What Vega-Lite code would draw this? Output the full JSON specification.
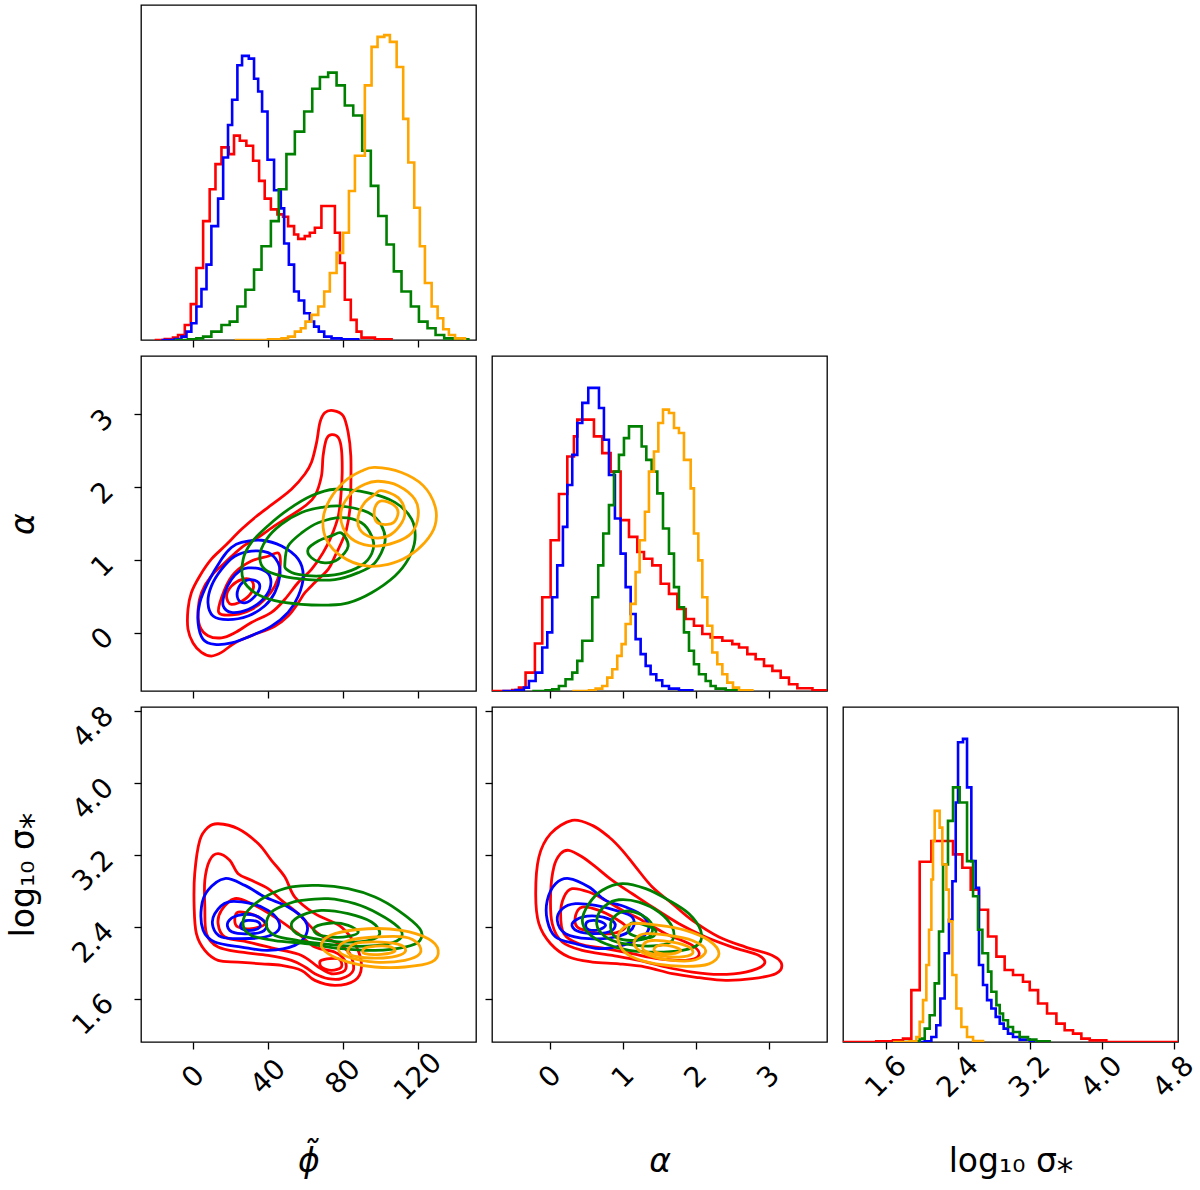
{
"$schema": "https://vega.github.io/schema/vega-lite/v6.json",
"padding": {"left": 6, "top": 4, "right": 0, "bottom": 0},
"autosize": {"type": "pad"},
"background": "white",
"config": {
  "view": {"stroke": "black", "strokeWidth": 1.3},
  "font": "DejaVu Sans",
  "axis": {"domain": false, "grid": false, "tickColor": "black", "tickSize": 7, "tickWidth": 1.3, "labelFont": "DejaVu Sans", "labelFontSize": 28, "labelColor": "black", "titleFont": "DejaVu Sans", "titleFontSize": 33, "titleFontWeight": "normal", "titleColor": "black", "labelOverlap": false, "labelFlush": false, "labelBound": false}
},
"datasets": {
"hp": [
{"s":"a","x":-20.7,"n":0},{"s":"a","x":-15.3,"n":3},{"s":"a","x":-10.9,"n":7},{"s":"a","x":-8.2,"n":15},{"s":"a","x":-4.6,"n":45},{"s":"a","x":-1.4,"n":107},{"s":"a","x":1.6,"n":215},{"s":"a","x":5.2,"n":355},{"s":"a","x":8.7,"n":450},{"s":"a","x":11.8,"n":525},{"s":"a","x":15.0,"n":575},{"s":"a","x":18.9,"n":555},{"s":"a","x":21.7,"n":610},{"s":"a","x":24.8,"n":595},{"s":"a","x":28.3,"n":580},{"s":"a","x":31.9,"n":535},{"s":"a","x":35.1,"n":475},{"s":"a","x":38.1,"n":422},{"s":"a","x":41.4,"n":390},{"s":"a","x":44.9,"n":375},{"s":"a","x":47.9,"n":368},{"s":"a","x":50.6,"n":340},{"s":"a","x":53.8,"n":315},{"s":"a","x":56.0,"n":302},{"s":"a","x":59.5,"n":310},{"s":"a","x":62.2,"n":320},{"s":"a","x":64.9,"n":335},{"s":"a","x":68.4,"n":400},{"s":"a","x":75.6,"n":320},{"s":"a","x":78.3,"n":230},{"s":"a","x":80.9,"n":120},{"s":"a","x":84.1,"n":60},{"s":"a","x":87.2,"n":25},{"s":"a","x":89.8,"n":7},{"s":"a","x":97.0,"n":2},{"s":"a","x":105.9,"n":0},
{"s":"b","x":-17.1,"n":0},{"s":"b","x":-10.0,"n":3},{"s":"b","x":-6.4,"n":10},{"s":"b","x":-3.7,"n":25},{"s":"b","x":-1.1,"n":50},{"s":"b","x":1.6,"n":100},{"s":"b","x":4.3,"n":152},{"s":"b","x":7.0,"n":225},{"s":"b","x":9.6,"n":340},{"s":"b","x":13.2,"n":422},{"s":"b","x":15.9,"n":545},{"s":"b","x":18.5,"n":642},{"s":"b","x":20.7,"n":717},{"s":"b","x":23.5,"n":820},{"s":"b","x":26.0,"n":848},{"s":"b","x":29.6,"n":840},{"s":"b","x":32.4,"n":780},{"s":"b","x":34.6,"n":742},{"s":"b","x":36.7,"n":682},{"s":"b","x":39.6,"n":538},{"s":"b","x":43.1,"n":447},{"s":"b","x":46.7,"n":393},{"s":"b","x":48.5,"n":288},{"s":"b","x":51.0,"n":225},{"s":"b","x":53.8,"n":145},{"s":"b","x":56.3,"n":118},{"s":"b","x":59.2,"n":80},{"s":"b","x":62.2,"n":55},{"s":"b","x":64.5,"n":40},{"s":"b","x":67.0,"n":25},{"s":"b","x":69.9,"n":10},{"s":"b","x":73.8,"n":5},{"s":"b","x":79.1,"n":2},{"s":"b","x":88.1,"n":0},
{"s":"c","x":-10.0,"n":0},{"s":"c","x":-2.9,"n":2},{"s":"c","x":1.6,"n":5},{"s":"c","x":5.2,"n":10},{"s":"c","x":9.6,"n":25},{"s":"c","x":15.0,"n":45},{"s":"c","x":19.4,"n":55},{"s":"c","x":23.5,"n":100},{"s":"c","x":27.8,"n":150},{"s":"c","x":32.4,"n":210},{"s":"c","x":36.4,"n":280},{"s":"c","x":41.4,"n":355},{"s":"c","x":45.6,"n":450},{"s":"c","x":49.7,"n":555},{"s":"c","x":54.2,"n":622},{"s":"c","x":59.2,"n":682},{"s":"c","x":63.5,"n":750},{"s":"c","x":67.6,"n":785},{"s":"c","x":72.0,"n":798},{"s":"c","x":76.5,"n":760},{"s":"c","x":80.9,"n":700},{"s":"c","x":85.4,"n":670},{"s":"c","x":90.2,"n":565},{"s":"c","x":94.8,"n":460},{"s":"c","x":98.8,"n":370},{"s":"c","x":103.2,"n":285},{"s":"c","x":107.1,"n":205},{"s":"c","x":111.2,"n":145},{"s":"c","x":116.2,"n":100},{"s":"c","x":120.5,"n":55},{"s":"c","x":125.1,"n":35},{"s":"c","x":129.4,"n":15},{"s":"c","x":134.0,"n":5},{"s":"c","x":138.9,"n":2},{"s":"c","x":146.9,"n":0},
{"s":"d","x":22.1,"n":0},{"s":"d","x":39.9,"n":2},{"s":"d","x":47.1,"n":5},{"s":"d","x":50.6,"n":10},{"s":"d","x":54.2,"n":25},{"s":"d","x":57.4,"n":35},{"s":"d","x":59.9,"n":55},{"s":"d","x":63.1,"n":75},{"s":"d","x":66.7,"n":100},{"s":"d","x":69.9,"n":145},{"s":"d","x":72.9,"n":200},{"s":"d","x":76.5,"n":260},{"s":"d","x":80.0,"n":320},{"s":"d","x":83.1,"n":445},{"s":"d","x":86.3,"n":550},{"s":"d","x":91.6,"n":760},{"s":"d","x":95.2,"n":875},{"s":"d","x":98.4,"n":905},{"s":"d","x":102.0,"n":910},{"s":"d","x":105.0,"n":890},{"s":"d","x":108.6,"n":815},{"s":"d","x":112.1,"n":660},{"s":"d","x":114.8,"n":530},{"s":"d","x":118.0,"n":395},{"s":"d","x":121.0,"n":280},{"s":"d","x":123.7,"n":170},{"s":"d","x":127.3,"n":100},{"s":"d","x":130.5,"n":65},{"s":"d","x":133.5,"n":32},{"s":"d","x":136.5,"n":15},{"s":"d","x":139.8,"n":5},{"s":"d","x":145.1,"n":0}
],
"ha": [
{"s":"a","x":-0.8,"n":0},{"s":"a","x":-0.522,"n":3},{"s":"a","x":-0.43,"n":10},{"s":"a","x":-0.339,"n":55},{"s":"a","x":-0.211,"n":142},{"s":"a","x":-0.11,"n":280},{"s":"a","x":0.005,"n":450},{"s":"a","x":0.119,"n":588},{"s":"a","x":0.234,"n":700},{"s":"a","x":0.325,"n":760},{"s":"a","x":0.371,"n":810},{"s":"a","x":0.6,"n":760},{"s":"a","x":0.714,"n":710},{"s":"a","x":0.829,"n":655},{"s":"a","x":0.966,"n":510},{"s":"a","x":1.081,"n":460},{"s":"a","x":1.195,"n":415},{"s":"a","x":1.287,"n":395},{"s":"a","x":1.401,"n":375},{"s":"a","x":1.516,"n":320},{"s":"a","x":1.63,"n":290},{"s":"a","x":1.745,"n":245},{"s":"a","x":1.859,"n":215},{"s":"a","x":1.973,"n":195},{"s":"a","x":2.088,"n":170},{"s":"a","x":2.202,"n":160},{"s":"a","x":2.363,"n":150},{"s":"a","x":2.5,"n":140},{"s":"a","x":2.592,"n":130},{"s":"a","x":2.706,"n":110},{"s":"a","x":2.82,"n":95},{"s":"a","x":2.935,"n":75},{"s":"a","x":3.05,"n":60},{"s":"a","x":3.164,"n":40},{"s":"a","x":3.278,"n":20},{"s":"a","x":3.393,"n":8},{"s":"a","x":3.6,"n":2},{"s":"a","x":3.8,"n":0},
{"s":"b","x":-0.659,"n":0},{"s":"b","x":-0.476,"n":3},{"s":"b","x":-0.362,"n":10},{"s":"b","x":-0.293,"n":30},{"s":"b","x":-0.201,"n":55},{"s":"b","x":-0.11,"n":130},{"s":"b","x":-0.041,"n":175},{"s":"b","x":0.027,"n":280},{"s":"b","x":0.096,"n":375},{"s":"b","x":0.174,"n":490},{"s":"b","x":0.234,"n":615},{"s":"b","x":0.302,"n":705},{"s":"b","x":0.371,"n":800},{"s":"b","x":0.44,"n":860},{"s":"b","x":0.522,"n":905},{"s":"b","x":0.669,"n":845},{"s":"b","x":0.737,"n":750},{"s":"b","x":0.806,"n":645},{"s":"b","x":0.888,"n":515},{"s":"b","x":0.966,"n":410},{"s":"b","x":1.035,"n":310},{"s":"b","x":1.104,"n":230},{"s":"b","x":1.172,"n":155},{"s":"b","x":1.241,"n":110},{"s":"b","x":1.31,"n":75},{"s":"b","x":1.378,"n":50},{"s":"b","x":1.456,"n":32},{"s":"b","x":1.538,"n":15},{"s":"b","x":1.63,"n":7},{"s":"b","x":1.767,"n":2},{"s":"b","x":1.951,"n":0},
{"s":"c","x":-0.247,"n":0},{"s":"c","x":-0.064,"n":2},{"s":"c","x":0.027,"n":5},{"s":"c","x":0.119,"n":15},{"s":"c","x":0.21,"n":35},{"s":"c","x":0.302,"n":55},{"s":"c","x":0.371,"n":90},{"s":"c","x":0.44,"n":150},{"s":"c","x":0.577,"n":280},{"s":"c","x":0.659,"n":375},{"s":"c","x":0.728,"n":470},{"s":"c","x":0.806,"n":555},{"s":"c","x":0.875,"n":655},{"s":"c","x":0.943,"n":705},{"s":"c","x":1.012,"n":755},{"s":"c","x":1.081,"n":790},{"s":"c","x":1.255,"n":730},{"s":"c","x":1.319,"n":690},{"s":"c","x":1.392,"n":655},{"s":"c","x":1.47,"n":590},{"s":"c","x":1.548,"n":485},{"s":"c","x":1.63,"n":410},{"s":"c","x":1.699,"n":310},{"s":"c","x":1.767,"n":250},{"s":"c","x":1.836,"n":175},{"s":"c","x":1.905,"n":120},{"s":"c","x":1.973,"n":80},{"s":"c","x":2.042,"n":50},{"s":"c","x":2.134,"n":30},{"s":"c","x":2.202,"n":15},{"s":"c","x":2.271,"n":7},{"s":"c","x":2.409,"n":2},{"s":"c","x":2.592,"n":0},
{"s":"d","x":0.302,"n":0},{"s":"d","x":0.531,"n":2},{"s":"d","x":0.623,"n":7},{"s":"d","x":0.714,"n":15},{"s":"d","x":0.783,"n":40},{"s":"d","x":0.852,"n":65},{"s":"d","x":0.92,"n":105},{"s":"d","x":0.98,"n":140},{"s":"d","x":1.035,"n":200},{"s":"d","x":1.104,"n":260},{"s":"d","x":1.172,"n":355},{"s":"d","x":1.227,"n":450},{"s":"d","x":1.3,"n":535},{"s":"d","x":1.355,"n":655},{"s":"d","x":1.424,"n":715},{"s":"d","x":1.484,"n":800},{"s":"d","x":1.548,"n":840},{"s":"d","x":1.63,"n":830},{"s":"d","x":1.699,"n":785},{"s":"d","x":1.767,"n":770},{"s":"d","x":1.836,"n":690},{"s":"d","x":1.928,"n":605},{"s":"d","x":1.973,"n":470},{"s":"d","x":2.033,"n":390},{"s":"d","x":2.088,"n":280},{"s":"d","x":2.157,"n":195},{"s":"d","x":2.225,"n":115},{"s":"d","x":2.294,"n":80},{"s":"d","x":2.363,"n":50},{"s":"d","x":2.431,"n":25},{"s":"d","x":2.509,"n":10},{"s":"d","x":2.592,"n":2},{"s":"d","x":2.775,"n":0}
],
"hs": [
{"s":"a","x":1.12,"n":0},{"s":"a","x":1.491,"n":2},{"s":"a","x":1.677,"n":5},{"s":"a","x":1.788,"n":10},{"s":"a","x":1.881,"n":155},{"s":"a","x":1.974,"n":538},{"s":"a","x":2.104,"n":600},{"s":"a","x":2.345,"n":560},{"s":"a","x":2.449,"n":520},{"s":"a","x":2.542,"n":455},{"s":"a","x":2.634,"n":395},{"s":"a","x":2.735,"n":315},{"s":"a","x":2.828,"n":255},{"s":"a","x":2.92,"n":215},{"s":"a","x":3.013,"n":200},{"s":"a","x":3.124,"n":180},{"s":"a","x":3.199,"n":155},{"s":"a","x":3.292,"n":115},{"s":"a","x":3.392,"n":85},{"s":"a","x":3.496,"n":55},{"s":"a","x":3.588,"n":35},{"s":"a","x":3.681,"n":25},{"s":"a","x":3.774,"n":10},{"s":"a","x":3.867,"n":5},{"s":"a","x":4.052,"n":0},{"s":"a","x":4.85,"n":0},
{"s":"b","x":1.937,"n":0},{"s":"b","x":2.03,"n":2},{"s":"b","x":2.104,"n":15},{"s":"b","x":2.159,"n":50},{"s":"b","x":2.204,"n":130},{"s":"b","x":2.252,"n":265},{"s":"b","x":2.3,"n":365},{"s":"b","x":2.338,"n":480},{"s":"b","x":2.375,"n":715},{"s":"b","x":2.401,"n":895},{"s":"b","x":2.456,"n":905},{"s":"b","x":2.501,"n":760},{"s":"b","x":2.549,"n":540},{"s":"b","x":2.597,"n":460},{"s":"b","x":2.634,"n":230},{"s":"b","x":2.679,"n":170},{"s":"b","x":2.724,"n":125},{"s":"b","x":2.772,"n":100},{"s":"b","x":2.82,"n":75},{"s":"b","x":2.865,"n":55},{"s":"b","x":2.909,"n":40},{"s":"b","x":2.957,"n":25},{"s":"b","x":3.013,"n":15},{"s":"b","x":3.087,"n":7},{"s":"b","x":3.199,"n":2},{"s":"b","x":3.347,"n":0},
{"s":"c","x":1.788,"n":0},{"s":"c","x":1.9,"n":2},{"s":"c","x":1.974,"n":10},{"s":"c","x":2.03,"n":40},{"s":"c","x":2.085,"n":80},{"s":"c","x":2.141,"n":175},{"s":"c","x":2.189,"n":330},{"s":"c","x":2.234,"n":530},{"s":"c","x":2.289,"n":660},{"s":"c","x":2.345,"n":760},{"s":"c","x":2.419,"n":715},{"s":"c","x":2.501,"n":540},{"s":"c","x":2.568,"n":435},{"s":"c","x":2.623,"n":335},{"s":"c","x":2.672,"n":265},{"s":"c","x":2.735,"n":210},{"s":"c","x":2.772,"n":150},{"s":"c","x":2.828,"n":110},{"s":"c","x":2.865,"n":85},{"s":"c","x":2.902,"n":65},{"s":"c","x":2.957,"n":45},{"s":"c","x":3.013,"n":30},{"s":"c","x":3.087,"n":15},{"s":"c","x":3.18,"n":7},{"s":"c","x":3.273,"n":2},{"s":"c","x":3.421,"n":0},
{"s":"d","x":1.677,"n":0},{"s":"d","x":1.862,"n":2},{"s":"d","x":1.937,"n":15},{"s":"d","x":1.974,"n":60},{"s":"d","x":2.011,"n":125},{"s":"d","x":2.048,"n":230},{"s":"d","x":2.078,"n":335},{"s":"d","x":2.104,"n":485},{"s":"d","x":2.122,"n":600},{"s":"d","x":2.141,"n":690},{"s":"d","x":2.196,"n":640},{"s":"d","x":2.226,"n":530},{"s":"d","x":2.271,"n":455},{"s":"d","x":2.3,"n":360},{"s":"d","x":2.338,"n":200},{"s":"d","x":2.382,"n":100},{"s":"d","x":2.438,"n":45},{"s":"d","x":2.501,"n":15},{"s":"d","x":2.568,"n":3},{"s":"d","x":2.679,"n":0}
],
"cpa": [
{"s":"a","g":"a1","x":74.7,"y":3.05},{"s":"a","g":"a1","x":80.0,"y":2.98},{"s":"a","g":"a1","x":82.7,"y":2.75},{"s":"a","g":"a1","x":84.1,"y":2.43},{"s":"a","g":"a1","x":84.1,"y":1.97},{"s":"a","g":"a1","x":83.6,"y":1.69},{"s":"a","g":"a1","x":81.8,"y":1.42},{"s":"a","g":"a1","x":79.1,"y":1.24},{"s":"a","g":"a1","x":75.6,"y":1.05},{"s":"a","g":"a1","x":72.0,"y":0.87},{"s":"a","g":"a1","x":64.9,"y":0.69},{"s":"a","g":"a1","x":59.6,"y":0.55},{"s":"a","g":"a1","x":56.0,"y":0.41},{"s":"a","g":"a1","x":50.6,"y":0.23},{"s":"a","g":"a1","x":43.5,"y":0.09},{"s":"a","g":"a1","x":31.0,"y":-0.04},{"s":"a","g":"a1","x":22.1,"y":-0.14},{"s":"a","g":"a1","x":15.0,"y":-0.27},{"s":"a","g":"a1","x":9.6,"y":-0.32},{"s":"a","g":"a1","x":4.3,"y":-0.27},{"s":"a","g":"a1","x":-0.2,"y":-0.14},{"s":"a","g":"a1","x":-2.9,"y":0.05},{"s":"a","g":"a1","x":-2.9,"y":0.32},{"s":"a","g":"a1","x":-1.1,"y":0.55},{"s":"a","g":"a1","x":3.4,"y":0.78},{"s":"a","g":"a1","x":9.6,"y":1.01},{"s":"a","g":"a1","x":16.8,"y":1.19},{"s":"a","g":"a1","x":25.7,"y":1.42},{"s":"a","g":"a1","x":33.7,"y":1.6},{"s":"a","g":"a1","x":43.5,"y":1.79},{"s":"a","g":"a1","x":52.4,"y":1.97},{"s":"a","g":"a1","x":59.6,"y":2.18},{"s":"a","g":"a1","x":63.1,"y":2.34},{"s":"a","g":"a1","x":65.8,"y":2.61},{"s":"a","g":"a1","x":67.6,"y":2.885},{"s":"a","g":"a1","x":70.2,"y":3.02},
{"s":"a","g":"a2","x":73.8,"y":2.72},{"s":"a","g":"a2","x":77.4,"y":2.68},{"s":"a","g":"a2","x":79.1,"y":2.52},{"s":"a","g":"a2","x":79.5,"y":2.2},{"s":"a","g":"a2","x":78.8,"y":1.88},{"s":"a","g":"a2","x":77.4,"y":1.6},{"s":"a","g":"a2","x":73.8,"y":1.33},{"s":"a","g":"a2","x":69.3,"y":1.1},{"s":"a","g":"a2","x":63.1,"y":0.87},{"s":"a","g":"a2","x":56.0,"y":0.69},{"s":"a","g":"a2","x":48.9,"y":0.46},{"s":"a","g":"a2","x":41.7,"y":0.28},{"s":"a","g":"a2","x":31.0,"y":0.14},{"s":"a","g":"a2","x":22.1,"y":0.0},{"s":"a","g":"a2","x":15.0,"y":-0.07},{"s":"a","g":"a2","x":7.8,"y":-0.04},{"s":"a","g":"a2","x":3.4,"y":0.09},{"s":"a","g":"a2","x":2.5,"y":0.32},{"s":"a","g":"a2","x":4.3,"y":0.55},{"s":"a","g":"a2","x":9.6,"y":0.78},{"s":"a","g":"a2","x":16.8,"y":0.96},{"s":"a","g":"a2","x":25.7,"y":1.17},{"s":"a","g":"a2","x":34.6,"y":1.31},{"s":"a","g":"a2","x":43.5,"y":1.47},{"s":"a","g":"a2","x":51.5,"y":1.6},{"s":"a","g":"a2","x":59.6,"y":1.74},{"s":"a","g":"a2","x":64.9,"y":1.88},{"s":"a","g":"a2","x":68.4,"y":2.15},{"s":"a","g":"a2","x":69.3,"y":2.43},{"s":"a","g":"a2","x":71.1,"y":2.66},
{"s":"a","g":"a3","x":13.5,"y":0.28},{"s":"a","g":"a3","x":16.8,"y":0.6},{"s":"a","g":"a3","x":22.1,"y":0.825},{"s":"a","g":"a3","x":31.0,"y":0.985},{"s":"a","g":"a3","x":39.9,"y":1.05},{"s":"a","g":"a3","x":45.6,"y":1.09},{"s":"a","g":"a3","x":46.2,"y":0.87},{"s":"a","g":"a3","x":43.5,"y":0.64},{"s":"a","g":"a3","x":38.2,"y":0.46},{"s":"a","g":"a3","x":31.0,"y":0.32},{"s":"a","g":"a3","x":22.1,"y":0.25},
{"s":"a","g":"a4","x":17.7,"y":0.5},{"s":"a","g":"a4","x":20.3,"y":0.64},{"s":"a","g":"a4","x":25.7,"y":0.73},{"s":"a","g":"a4","x":31.0,"y":0.72},{"s":"a","g":"a4","x":31.9,"y":0.6},{"s":"a","g":"a4","x":27.5,"y":0.46},{"s":"a","g":"a4","x":20.3,"y":0.39},
{"s":"b","g":"b1","x":25.7,"y":1.24},{"s":"b","g":"b1","x":36.4,"y":1.27},{"s":"b","g":"b1","x":47.1,"y":1.19},{"s":"b","g":"b1","x":56.0,"y":1.01},{"s":"b","g":"b1","x":58.7,"y":0.78},{"s":"b","g":"b1","x":56.0,"y":0.5},{"s":"b","g":"b1","x":50.6,"y":0.28},{"s":"b","g":"b1","x":41.7,"y":0.09},{"s":"b","g":"b1","x":31.0,"y":-0.04},{"s":"b","g":"b1","x":20.3,"y":-0.14},{"s":"b","g":"b1","x":11.4,"y":-0.16},{"s":"b","g":"b1","x":5.2,"y":-0.09},{"s":"b","g":"b1","x":2.5,"y":0.14},{"s":"b","g":"b1","x":3.4,"y":0.41},{"s":"b","g":"b1","x":7.8,"y":0.69},{"s":"b","g":"b1","x":15.0,"y":1.01},{"s":"b","g":"b1","x":20.3,"y":1.17},
{"s":"b","g":"b2","x":31.0,"y":1.12},{"s":"b","g":"b2","x":39.9,"y":1.1},{"s":"b","g":"b2","x":45.3,"y":0.96},{"s":"b","g":"b2","x":46.2,"y":0.78},{"s":"b","g":"b2","x":43.5,"y":0.55},{"s":"b","g":"b2","x":38.2,"y":0.37},{"s":"b","g":"b2","x":29.2,"y":0.23},{"s":"b","g":"b2","x":18.5,"y":0.18},{"s":"b","g":"b2","x":10.5,"y":0.23},{"s":"b","g":"b2","x":7.8,"y":0.41},{"s":"b","g":"b2","x":9.6,"y":0.64},{"s":"b","g":"b2","x":15.0,"y":0.87},{"s":"b","g":"b2","x":22.1,"y":1.05},
{"s":"b","g":"b3","x":29.2,"y":0.89},{"s":"b","g":"b3","x":36.4,"y":0.87},{"s":"b","g":"b3","x":40.8,"y":0.78},{"s":"b","g":"b3","x":40.8,"y":0.6},{"s":"b","g":"b3","x":36.4,"y":0.44},{"s":"b","g":"b3","x":29.2,"y":0.32},{"s":"b","g":"b3","x":20.3,"y":0.28},{"s":"b","g":"b3","x":15.9,"y":0.37},{"s":"b","g":"b3","x":16.8,"y":0.55},{"s":"b","g":"b3","x":20.3,"y":0.73},{"s":"b","g":"b3","x":24.8,"y":0.85},
{"s":"b","g":"b4","x":27.5,"y":0.71},{"s":"b","g":"b4","x":32.8,"y":0.72},{"s":"b","g":"b4","x":35.5,"y":0.64},{"s":"b","g":"b4","x":32.8,"y":0.5},{"s":"b","g":"b4","x":27.5,"y":0.41},{"s":"b","g":"b4","x":23.9,"y":0.46},{"s":"b","g":"b4","x":23.9,"y":0.6},
{"s":"c","g":"c1","x":75.6,"y":1.97},{"s":"c","g":"c1","x":93.4,"y":1.92},{"s":"c","g":"c1","x":107.7,"y":1.79},{"s":"c","g":"c1","x":116.6,"y":1.56},{"s":"c","g":"c1","x":118.4,"y":1.28},{"s":"c","g":"c1","x":114.8,"y":1.01},{"s":"c","g":"c1","x":107.7,"y":0.78},{"s":"c","g":"c1","x":95.2,"y":0.55},{"s":"c","g":"c1","x":82.7,"y":0.41},{"s":"c","g":"c1","x":72.0,"y":0.38},{"s":"c","g":"c1","x":57.8,"y":0.39},{"s":"c","g":"c1","x":43.5,"y":0.44},{"s":"c","g":"c1","x":32.8,"y":0.55},{"s":"c","g":"c1","x":26.6,"y":0.73},{"s":"c","g":"c1","x":26.6,"y":1.01},{"s":"c","g":"c1","x":31.0,"y":1.24},{"s":"c","g":"c1","x":39.9,"y":1.47},{"s":"c","g":"c1","x":50.6,"y":1.69},{"s":"c","g":"c1","x":63.1,"y":1.88},
{"s":"c","g":"c2","x":79.1,"y":1.74},{"s":"c","g":"c2","x":93.4,"y":1.65},{"s":"c","g":"c2","x":100.5,"y":1.47},{"s":"c","g":"c2","x":102.3,"y":1.24},{"s":"c","g":"c2","x":97.0,"y":0.96},{"s":"c","g":"c2","x":88.1,"y":0.825},{"s":"c","g":"c2","x":75.6,"y":0.73},{"s":"c","g":"c2","x":61.3,"y":0.73},{"s":"c","g":"c2","x":47.1,"y":0.78},{"s":"c","g":"c2","x":38.2,"y":0.87},{"s":"c","g":"c2","x":35.5,"y":1.05},{"s":"c","g":"c2","x":39.0,"y":1.28},{"s":"c","g":"c2","x":47.1,"y":1.49},{"s":"c","g":"c2","x":57.8,"y":1.65},{"s":"c","g":"c2","x":68.4,"y":1.72},
{"s":"c","g":"c3","x":48.9,"y":0.96},{"s":"c","g":"c3","x":50.6,"y":1.19},{"s":"c","g":"c3","x":57.8,"y":1.37},{"s":"c","g":"c3","x":66.7,"y":1.51},{"s":"c","g":"c3","x":79.1,"y":1.58},{"s":"c","g":"c3","x":89.8,"y":1.51},{"s":"c","g":"c3","x":95.2,"y":1.33},{"s":"c","g":"c3","x":96.1,"y":1.15},{"s":"c","g":"c3","x":91.6,"y":0.96},{"s":"c","g":"c3","x":80.9,"y":0.825},{"s":"c","g":"c3","x":68.4,"y":0.78},{"s":"c","g":"c3","x":56.0,"y":0.8},{"s":"c","g":"c3","x":49.8,"y":0.87},
{"s":"c","g":"c4","x":79.1,"y":1.37},{"s":"c","g":"c4","x":82.7,"y":1.19},{"s":"c","g":"c4","x":77.4,"y":1.01},{"s":"c","g":"c4","x":70.2,"y":0.96},{"s":"c","g":"c4","x":63.1,"y":1.03},{"s":"c","g":"c4","x":61.3,"y":1.15},{"s":"c","g":"c4","x":66.7,"y":1.26},{"s":"c","g":"c4","x":73.8,"y":1.33},
{"s":"d","g":"d1","x":97.0,"y":2.27},{"s":"d","g":"d1","x":111.2,"y":2.2},{"s":"d","g":"d1","x":122.8,"y":2.02},{"s":"d","g":"d1","x":129.1,"y":1.74},{"s":"d","g":"d1","x":129.1,"y":1.47},{"s":"d","g":"d1","x":123.7,"y":1.24},{"s":"d","g":"d1","x":114.8,"y":1.05},{"s":"d","g":"d1","x":104.1,"y":0.94},{"s":"d","g":"d1","x":91.6,"y":0.92},{"s":"d","g":"d1","x":79.1,"y":1.05},{"s":"d","g":"d1","x":71.1,"y":1.28},{"s":"d","g":"d1","x":69.3,"y":1.56},{"s":"d","g":"d1","x":72.9,"y":1.83},{"s":"d","g":"d1","x":80.9,"y":2.08},{"s":"d","g":"d1","x":89.8,"y":2.22},
{"s":"d","g":"d2","x":98.8,"y":2.08},{"s":"d","g":"d2","x":109.4,"y":2.02},{"s":"d","g":"d2","x":118.4,"y":1.83},{"s":"d","g":"d2","x":120.1,"y":1.6},{"s":"d","g":"d2","x":116.6,"y":1.37},{"s":"d","g":"d2","x":107.7,"y":1.24},{"s":"d","g":"d2","x":97.0,"y":1.19},{"s":"d","g":"d2","x":86.3,"y":1.26},{"s":"d","g":"d2","x":80.0,"y":1.44},{"s":"d","g":"d2","x":79.1,"y":1.69},{"s":"d","g":"d2","x":84.5,"y":1.92},{"s":"d","g":"d2","x":91.6,"y":2.04},
{"s":"d","g":"d3","x":100.5,"y":1.95},{"s":"d","g":"d3","x":109.4,"y":1.855},{"s":"d","g":"d3","x":113.0,"y":1.65},{"s":"d","g":"d3","x":110.3,"y":1.47},{"s":"d","g":"d3","x":104.1,"y":1.33},{"s":"d","g":"d3","x":95.2,"y":1.31},{"s":"d","g":"d3","x":88.9,"y":1.42},{"s":"d","g":"d3","x":88.1,"y":1.6},{"s":"d","g":"d3","x":91.6,"y":1.79},{"s":"d","g":"d3","x":97.0,"y":1.9},
{"s":"d","g":"d4","x":100.5,"y":1.81},{"s":"d","g":"d4","x":106.8,"y":1.76},{"s":"d","g":"d4","x":109.4,"y":1.65},{"s":"d","g":"d4","x":106.8,"y":1.51},{"s":"d","g":"d4","x":100.5,"y":1.49},{"s":"d","g":"d4","x":97.0,"y":1.56},{"s":"d","g":"d4","x":97.0,"y":1.72}
],
"cps": [
{"s":"a","g":"a1","x":13.2,"y":3.55},{"s":"a","g":"a1","x":23.9,"y":3.495},{"s":"a","g":"a1","x":34.6,"y":3.33},{"s":"a","g":"a1","x":41.7,"y":3.143},{"s":"a","g":"a1","x":48.9,"y":2.957},{"s":"a","g":"a1","x":54.2,"y":2.734},{"s":"a","g":"a1","x":64.9,"y":2.549},{"s":"a","g":"a1","x":79.1,"y":2.4},{"s":"a","g":"a1","x":87.2,"y":2.177},{"s":"a","g":"a1","x":89.8,"y":1.955},{"s":"a","g":"a1","x":86.3,"y":1.806},{"s":"a","g":"a1","x":75.6,"y":1.75},{"s":"a","g":"a1","x":64.9,"y":1.806},{"s":"a","g":"a1","x":57.8,"y":1.917},{"s":"a","g":"a1","x":47.1,"y":1.973},{"s":"a","g":"a1","x":36.4,"y":1.99},{"s":"a","g":"a1","x":23.9,"y":2.01},{"s":"a","g":"a1","x":13.2,"y":2.029},{"s":"a","g":"a1","x":6.1,"y":2.14},{"s":"a","g":"a1","x":1.6,"y":2.326},{"s":"a","g":"a1","x":0.4,"y":2.623},{"s":"a","g":"a1","x":0.7,"y":2.994},{"s":"a","g":"a1","x":3.4,"y":3.365},{"s":"a","g":"a1","x":7.8,"y":3.51},
{"s":"a","g":"a2","x":13.2,"y":3.217},{"s":"a","g":"a2","x":19.4,"y":3.143},{"s":"a","g":"a2","x":23.9,"y":2.994},{"s":"a","g":"a2","x":31.0,"y":2.92},{"s":"a","g":"a2","x":39.9,"y":2.827},{"s":"a","g":"a2","x":47.1,"y":2.697},{"s":"a","g":"a2","x":56.0,"y":2.549},{"s":"a","g":"a2","x":66.7,"y":2.326},{"s":"a","g":"a2","x":77.4,"y":2.214},{"s":"a","g":"a2","x":83.6,"y":2.103},{"s":"a","g":"a2","x":85.4,"y":1.917},{"s":"a","g":"a2","x":79.1,"y":1.825},{"s":"a","g":"a2","x":72.0,"y":1.825},{"s":"a","g":"a2","x":64.9,"y":1.88},{"s":"a","g":"a2","x":59.6,"y":1.955},{"s":"a","g":"a2","x":52.4,"y":2.029},{"s":"a","g":"a2","x":39.9,"y":2.084},{"s":"a","g":"a2","x":25.7,"y":2.12},{"s":"a","g":"a2","x":13.2,"y":2.177},{"s":"a","g":"a2","x":7.0,"y":2.326},{"s":"a","g":"a2","x":6.1,"y":2.623},{"s":"a","g":"a2","x":6.1,"y":2.92},{"s":"a","g":"a2","x":8.7,"y":3.143},
{"s":"a","g":"a3","x":15.0,"y":2.586},{"s":"a","g":"a3","x":22.1,"y":2.716},{"s":"a","g":"a3","x":31.0,"y":2.66},{"s":"a","g":"a3","x":43.5,"y":2.511},{"s":"a","g":"a3","x":56.0,"y":2.326},{"s":"a","g":"a3","x":64.9,"y":2.177},{"s":"a","g":"a3","x":75.6,"y":2.12},{"s":"a","g":"a3","x":80.9,"y":2.029},{"s":"a","g":"a3","x":80.9,"y":1.917},{"s":"a","g":"a3","x":73.8,"y":1.88},{"s":"a","g":"a3","x":66.7,"y":1.955},{"s":"a","g":"a3","x":57.8,"y":2.084},{"s":"a","g":"a3","x":43.5,"y":2.159},{"s":"a","g":"a3","x":29.2,"y":2.233},{"s":"a","g":"a3","x":16.8,"y":2.289},{"s":"a","g":"a3","x":13.2,"y":2.437},
{"s":"a","g":"a4","x":23.9,"y":2.567},{"s":"a","g":"a4","x":32.8,"y":2.53},{"s":"a","g":"a4","x":38.2,"y":2.437},{"s":"a","g":"a4","x":31.0,"y":2.381},{"s":"a","g":"a4","x":23.9,"y":2.4},{"s":"a","g":"a4","x":22.1,"y":2.474},
{"s":"a","g":"a5","x":68.4,"y":2.029},{"s":"a","g":"a5","x":77.4,"y":2.047},{"s":"a","g":"a5","x":79.1,"y":1.955},{"s":"a","g":"a5","x":73.8,"y":1.917},{"s":"a","g":"a5","x":68.4,"y":1.955},
{"s":"b","g":"b1","x":16.8,"y":2.94},{"s":"b","g":"b1","x":27.5,"y":2.864},{"s":"b","g":"b1","x":38.2,"y":2.734},{"s":"b","g":"b1","x":50.6,"y":2.623},{"s":"b","g":"b1","x":59.6,"y":2.474},{"s":"b","g":"b1","x":60.4,"y":2.326},{"s":"b","g":"b1","x":54.2,"y":2.196},{"s":"b","g":"b1","x":39.9,"y":2.14},{"s":"b","g":"b1","x":25.7,"y":2.177},{"s":"b","g":"b1","x":11.4,"y":2.233},{"s":"b","g":"b1","x":5.2,"y":2.363},{"s":"b","g":"b1","x":4.3,"y":2.623},{"s":"b","g":"b1","x":7.8,"y":2.81},
{"s":"b","g":"b2","x":18.5,"y":2.678},{"s":"b","g":"b2","x":31.0,"y":2.66},{"s":"b","g":"b2","x":39.9,"y":2.586},{"s":"b","g":"b2","x":45.3,"y":2.474},{"s":"b","g":"b2","x":45.3,"y":2.363},{"s":"b","g":"b2","x":38.2,"y":2.289},{"s":"b","g":"b2","x":25.7,"y":2.27},{"s":"b","g":"b2","x":15.0,"y":2.289},{"s":"b","g":"b2","x":10.5,"y":2.4},{"s":"b","g":"b2","x":11.4,"y":2.549},
{"s":"b","g":"b3","x":23.9,"y":2.53},{"s":"b","g":"b3","x":32.8,"y":2.53},{"s":"b","g":"b3","x":39.0,"y":2.437},{"s":"b","g":"b3","x":36.4,"y":2.344},{"s":"b","g":"b3","x":25.7,"y":2.326},{"s":"b","g":"b3","x":19.4,"y":2.363},{"s":"b","g":"b3","x":18.5,"y":2.456},
{"s":"b","g":"b4","x":29.2,"y":2.474},{"s":"b","g":"b4","x":34.6,"y":2.456},{"s":"b","g":"b4","x":35.5,"y":2.4},{"s":"b","g":"b4","x":31.0,"y":2.363},{"s":"b","g":"b4","x":25.7,"y":2.381},{"s":"b","g":"b4","x":25.7,"y":2.445},
{"s":"c","g":"c1","x":52.4,"y":2.846},{"s":"c","g":"c1","x":66.7,"y":2.864},{"s":"c","g":"c1","x":82.7,"y":2.827},{"s":"c","g":"c1","x":97.0,"y":2.734},{"s":"c","g":"c1","x":109.4,"y":2.586},{"s":"c","g":"c1","x":121.0,"y":2.381},{"s":"c","g":"c1","x":121.0,"y":2.25},{"s":"c","g":"c1","x":113.0,"y":2.177},{"s":"c","g":"c1","x":97.0,"y":2.14},{"s":"c","g":"c1","x":79.1,"y":2.159},{"s":"c","g":"c1","x":61.3,"y":2.214},{"s":"c","g":"c1","x":43.5,"y":2.25},{"s":"c","g":"c1","x":31.0,"y":2.307},{"s":"c","g":"c1","x":26.6,"y":2.419},{"s":"c","g":"c1","x":29.2,"y":2.586},{"s":"c","g":"c1","x":39.9,"y":2.753},
{"s":"c","g":"c2","x":39.0,"y":2.419},{"s":"c","g":"c2","x":41.7,"y":2.567},{"s":"c","g":"c2","x":50.6,"y":2.66},{"s":"c","g":"c2","x":57.8,"y":2.697},{"s":"c","g":"c2","x":72.0,"y":2.716},{"s":"c","g":"c2","x":86.3,"y":2.66},{"s":"c","g":"c2","x":98.8,"y":2.549},{"s":"c","g":"c2","x":109.4,"y":2.4},{"s":"c","g":"c2","x":111.2,"y":2.289},{"s":"c","g":"c2","x":104.1,"y":2.214},{"s":"c","g":"c2","x":88.1,"y":2.185},{"s":"c","g":"c2","x":72.0,"y":2.207},{"s":"c","g":"c2","x":56.0,"y":2.25},{"s":"c","g":"c2","x":43.5,"y":2.307},
{"s":"c","g":"c3","x":52.4,"y":2.437},{"s":"c","g":"c3","x":57.8,"y":2.53},{"s":"c","g":"c3","x":68.4,"y":2.586},{"s":"c","g":"c3","x":82.7,"y":2.549},{"s":"c","g":"c3","x":95.2,"y":2.456},{"s":"c","g":"c3","x":99.6,"y":2.326},{"s":"c","g":"c3","x":93.4,"y":2.25},{"s":"c","g":"c3","x":79.1,"y":2.233},{"s":"c","g":"c3","x":64.9,"y":2.27},{"s":"c","g":"c3","x":55.1,"y":2.326},
{"s":"c","g":"c4","x":64.9,"y":2.4},{"s":"c","g":"c4","x":73.8,"y":2.445},{"s":"c","g":"c4","x":82.7,"y":2.419},{"s":"c","g":"c4","x":88.1,"y":2.344},{"s":"c","g":"c4","x":82.7,"y":2.296},{"s":"c","g":"c4","x":73.8,"y":2.289},{"s":"c","g":"c4","x":65.8,"y":2.326},
{"s":"d","g":"d1","x":75.6,"y":2.326},{"s":"d","g":"d1","x":93.4,"y":2.381},{"s":"d","g":"d1","x":111.2,"y":2.363},{"s":"d","g":"d1","x":125.5,"y":2.27},{"s":"d","g":"d1","x":130.8,"y":2.14},{"s":"d","g":"d1","x":127.3,"y":2.01},{"s":"d","g":"d1","x":113.0,"y":1.955},{"s":"d","g":"d1","x":97.0,"y":1.955},{"s":"d","g":"d1","x":82.7,"y":2.01},{"s":"d","g":"d1","x":72.0,"y":2.103},{"s":"d","g":"d1","x":68.4,"y":2.214},
{"s":"d","g":"d2","x":82.7,"y":2.25},{"s":"d","g":"d2","x":97.0,"y":2.289},{"s":"d","g":"d2","x":113.0,"y":2.289},{"s":"d","g":"d2","x":120.1,"y":2.214},{"s":"d","g":"d2","x":121.0,"y":2.103},{"s":"d","g":"d2","x":113.0,"y":2.029},{"s":"d","g":"d2","x":97.0,"y":2.01},{"s":"d","g":"d2","x":82.7,"y":2.066},{"s":"d","g":"d2","x":77.4,"y":2.159},
{"s":"d","g":"d3","x":86.3,"y":2.214},{"s":"d","g":"d3","x":100.5,"y":2.233},{"s":"d","g":"d3","x":111.2,"y":2.196},{"s":"d","g":"d3","x":113.0,"y":2.12},{"s":"d","g":"d3","x":105.9,"y":2.066},{"s":"d","g":"d3","x":91.6,"y":2.058},{"s":"d","g":"d3","x":82.7,"y":2.11},
{"s":"d","g":"d4","x":93.4,"y":2.177},{"s":"d","g":"d4","x":104.1,"y":2.185},{"s":"d","g":"d4","x":107.7,"y":2.133},{"s":"d","g":"d4","x":100.5,"y":2.096},{"s":"d","g":"d4","x":91.6,"y":2.103},{"s":"d","g":"d4","x":90.7,"y":2.148}
],
"cas": [
{"s":"a","g":"a1","x":0.3,"y":3.588},{"s":"a","g":"a1","x":0.577,"y":3.532},{"s":"a","g":"a1","x":0.806,"y":3.402},{"s":"a","g":"a1","x":0.989,"y":3.254},{"s":"a","g":"a1","x":1.172,"y":3.07},{"s":"a","g":"a1","x":1.401,"y":2.846},{"s":"a","g":"a1","x":1.676,"y":2.66},{"s":"a","g":"a1","x":1.951,"y":2.474},{"s":"a","g":"a1","x":2.317,"y":2.289},{"s":"a","g":"a1","x":2.683,"y":2.177},{"s":"a","g":"a1","x":3.05,"y":2.084},{"s":"a","g":"a1","x":3.178,"y":1.984},{"s":"a","g":"a1","x":3.095,"y":1.88},{"s":"a","g":"a1","x":2.775,"y":1.825},{"s":"a","g":"a1","x":2.409,"y":1.806},{"s":"a","g":"a1","x":2.042,"y":1.836},{"s":"a","g":"a1","x":1.676,"y":1.88},{"s":"a","g":"a1","x":1.31,"y":1.955},{"s":"a","g":"a1","x":0.943,"y":1.99},{"s":"a","g":"a1","x":0.577,"y":2.01},{"s":"a","g":"a1","x":0.256,"y":2.066},{"s":"a","g":"a1","x":0.005,"y":2.214},{"s":"a","g":"a1","x":-0.156,"y":2.437},{"s":"a","g":"a1","x":-0.2,"y":2.771},{"s":"a","g":"a1","x":-0.156,"y":3.18},{"s":"a","g":"a1","x":0.005,"y":3.44},
{"s":"a","g":"a2","x":0.256,"y":3.254},{"s":"a","g":"a2","x":0.44,"y":3.18},{"s":"a","g":"a2","x":0.623,"y":3.07},{"s":"a","g":"a2","x":0.852,"y":2.92},{"s":"a","g":"a2","x":1.126,"y":2.771},{"s":"a","g":"a2","x":1.401,"y":2.623},{"s":"a","g":"a2","x":1.768,"y":2.437},{"s":"a","g":"a2","x":2.134,"y":2.289},{"s":"a","g":"a2","x":2.5,"y":2.177},{"s":"a","g":"a2","x":2.866,"y":2.084},{"s":"a","g":"a2","x":2.935,"y":1.984},{"s":"a","g":"a2","x":2.683,"y":1.899},{"s":"a","g":"a2","x":2.317,"y":1.873},{"s":"a","g":"a2","x":1.951,"y":1.899},{"s":"a","g":"a2","x":1.584,"y":1.955},{"s":"a","g":"a2","x":1.218,"y":2.029},{"s":"a","g":"a2","x":0.852,"y":2.084},{"s":"a","g":"a2","x":0.44,"y":2.14},{"s":"a","g":"a2","x":0.165,"y":2.233},{"s":"a","g":"a2","x":0.027,"y":2.437},{"s":"a","g":"a2","x":0.005,"y":2.771},{"s":"a","g":"a2","x":0.05,"y":3.07},{"s":"a","g":"a2","x":0.142,"y":3.217},
{"s":"a","g":"a3","x":0.3,"y":2.827},{"s":"a","g":"a3","x":0.531,"y":2.79},{"s":"a","g":"a3","x":0.76,"y":2.697},{"s":"a","g":"a3","x":0.989,"y":2.586},{"s":"a","g":"a3","x":1.264,"y":2.474},{"s":"a","g":"a3","x":1.584,"y":2.326},{"s":"a","g":"a3","x":1.951,"y":2.196},{"s":"a","g":"a3","x":2.042,"y":2.084},{"s":"a","g":"a3","x":1.859,"y":2.029},{"s":"a","g":"a3","x":1.493,"y":2.047},{"s":"a","g":"a3","x":1.126,"y":2.103},{"s":"a","g":"a3","x":0.76,"y":2.159},{"s":"a","g":"a3","x":0.394,"y":2.214},{"s":"a","g":"a3","x":0.188,"y":2.326},{"s":"a","g":"a3","x":0.142,"y":2.549},{"s":"a","g":"a3","x":0.188,"y":2.734},
{"s":"a","g":"a4","x":0.44,"y":2.623},{"s":"a","g":"a4","x":0.669,"y":2.586},{"s":"a","g":"a4","x":0.897,"y":2.493},{"s":"a","g":"a4","x":1.035,"y":2.4},{"s":"a","g":"a4","x":0.852,"y":2.326},{"s":"a","g":"a4","x":0.577,"y":2.344},{"s":"a","g":"a4","x":0.371,"y":2.4},{"s":"a","g":"a4","x":0.348,"y":2.53},
{"s":"b","g":"b1","x":0.256,"y":2.94},{"s":"b","g":"b1","x":0.531,"y":2.846},{"s":"b","g":"b1","x":0.76,"y":2.697},{"s":"b","g":"b1","x":1.035,"y":2.623},{"s":"b","g":"b1","x":1.264,"y":2.53},{"s":"b","g":"b1","x":1.355,"y":2.4},{"s":"b","g":"b1","x":1.264,"y":2.289},{"s":"b","g":"b1","x":0.989,"y":2.196},{"s":"b","g":"b1","x":0.669,"y":2.159},{"s":"b","g":"b1","x":0.348,"y":2.214},{"s":"b","g":"b1","x":0.073,"y":2.289},{"s":"b","g":"b1","x":-0.041,"y":2.474},{"s":"b","g":"b1","x":-0.041,"y":2.697},{"s":"b","g":"b1","x":0.073,"y":2.883},
{"s":"b","g":"b2","x":0.348,"y":2.66},{"s":"b","g":"b2","x":0.623,"y":2.641},{"s":"b","g":"b2","x":0.897,"y":2.586},{"s":"b","g":"b2","x":1.126,"y":2.511},{"s":"b","g":"b2","x":1.126,"y":2.381},{"s":"b","g":"b2","x":0.897,"y":2.289},{"s":"b","g":"b2","x":0.531,"y":2.27},{"s":"b","g":"b2","x":0.21,"y":2.326},{"s":"b","g":"b2","x":0.096,"y":2.474},{"s":"b","g":"b2","x":0.165,"y":2.604},
{"s":"b","g":"b3","x":0.44,"y":2.511},{"s":"b","g":"b3","x":0.669,"y":2.519},{"s":"b","g":"b3","x":0.875,"y":2.456},{"s":"b","g":"b3","x":0.852,"y":2.363},{"s":"b","g":"b3","x":0.623,"y":2.326},{"s":"b","g":"b3","x":0.371,"y":2.355},{"s":"b","g":"b3","x":0.3,"y":2.437},
{"s":"b","g":"b4","x":0.531,"y":2.467},{"s":"b","g":"b4","x":0.669,"y":2.467},{"s":"b","g":"b4","x":0.76,"y":2.419},{"s":"b","g":"b4","x":0.669,"y":2.37},{"s":"b","g":"b4","x":0.531,"y":2.37},{"s":"b","g":"b4","x":0.485,"y":2.419},
{"s":"c","g":"c1","x":0.989,"y":2.883},{"s":"c","g":"c1","x":1.31,"y":2.827},{"s":"c","g":"c1","x":1.63,"y":2.697},{"s":"c","g":"c1","x":1.905,"y":2.549},{"s":"c","g":"c1","x":2.065,"y":2.363},{"s":"c","g":"c1","x":2.042,"y":2.214},{"s":"c","g":"c1","x":1.813,"y":2.14},{"s":"c","g":"c1","x":1.447,"y":2.12},{"s":"c","g":"c1","x":1.081,"y":2.14},{"s":"c","g":"c1","x":0.76,"y":2.214},{"s":"c","g":"c1","x":0.531,"y":2.326},{"s":"c","g":"c1","x":0.44,"y":2.474},{"s":"c","g":"c1","x":0.531,"y":2.66},{"s":"c","g":"c1","x":0.714,"y":2.81},
{"s":"c","g":"c2","x":0.943,"y":2.704},{"s":"c","g":"c2","x":1.218,"y":2.678},{"s":"c","g":"c2","x":1.493,"y":2.567},{"s":"c","g":"c2","x":1.676,"y":2.4},{"s":"c","g":"c2","x":1.676,"y":2.25},{"s":"c","g":"c2","x":1.493,"y":2.196},{"s":"c","g":"c2","x":1.172,"y":2.196},{"s":"c","g":"c2","x":0.852,"y":2.25},{"s":"c","g":"c2","x":0.669,"y":2.363},{"s":"c","g":"c2","x":0.646,"y":2.511},{"s":"c","g":"c2","x":0.76,"y":2.641},
{"s":"c","g":"c3","x":1.035,"y":2.578},{"s":"c","g":"c3","x":1.264,"y":2.53},{"s":"c","g":"c3","x":1.401,"y":2.419},{"s":"c","g":"c3","x":1.355,"y":2.289},{"s":"c","g":"c3","x":1.126,"y":2.25},{"s":"c","g":"c3","x":0.897,"y":2.289},{"s":"c","g":"c3","x":0.829,"y":2.4},{"s":"c","g":"c3","x":0.875,"y":2.511},
{"s":"c","g":"c4","x":1.126,"y":2.445},{"s":"c","g":"c4","x":1.31,"y":2.419},{"s":"c","g":"c4","x":1.447,"y":2.363},{"s":"c","g":"c4","x":1.401,"y":2.289},{"s":"c","g":"c4","x":1.218,"y":2.289},{"s":"c","g":"c4","x":1.081,"y":2.333},{"s":"c","g":"c4","x":1.081,"y":2.4},
{"s":"d","g":"d1","x":1.126,"y":2.437},{"s":"d","g":"d1","x":1.493,"y":2.419},{"s":"d","g":"d1","x":1.859,"y":2.363},{"s":"d","g":"d1","x":2.18,"y":2.25},{"s":"d","g":"d1","x":2.317,"y":2.103},{"s":"d","g":"d1","x":2.18,"y":1.99},{"s":"d","g":"d1","x":1.859,"y":1.962},{"s":"d","g":"d1","x":1.447,"y":1.99},{"s":"d","g":"d1","x":1.126,"y":2.066},{"s":"d","g":"d1","x":0.966,"y":2.177},{"s":"d","g":"d1","x":0.943,"y":2.326},
{"s":"d","g":"d2","x":1.31,"y":2.326},{"s":"d","g":"d2","x":1.63,"y":2.307},{"s":"d","g":"d2","x":1.951,"y":2.25},{"s":"d","g":"d2","x":2.134,"y":2.14},{"s":"d","g":"d2","x":1.996,"y":2.036},{"s":"d","g":"d2","x":1.676,"y":2.029},{"s":"d","g":"d2","x":1.355,"y":2.084},{"s":"d","g":"d2","x":1.172,"y":2.177},{"s":"d","g":"d2","x":1.172,"y":2.27},
{"s":"d","g":"d3","x":1.401,"y":2.25},{"s":"d","g":"d3","x":1.676,"y":2.233},{"s":"d","g":"d3","x":1.905,"y":2.177},{"s":"d","g":"d3","x":1.951,"y":2.103},{"s":"d","g":"d3","x":1.768,"y":2.066},{"s":"d","g":"d3","x":1.493,"y":2.084},{"s":"d","g":"d3","x":1.287,"y":2.14},{"s":"d","g":"d3","x":1.287,"y":2.214},
{"s":"d","g":"d4","x":1.493,"y":2.196},{"s":"d","g":"d4","x":1.676,"y":2.185},{"s":"d","g":"d4","x":1.79,"y":2.14},{"s":"d","g":"d4","x":1.676,"y":2.103},{"s":"d","g":"d4","x":1.493,"y":2.11},{"s":"d","g":"d4","x":1.424,"y":2.148}
]
},
"columns": 3,
"spacing": 16,
"bounds": "flush",
"concat": [
{
 "width": 335, "height": 335,
 "data": {"name": "hp"},
 "mark": {"type": "line", "interpolate": "step-after", "clip": true, "strokeWidth": 2.6},
 "encoding": {
  "x": {"field": "x", "type": "quantitative", "scale": {"domain": [-28, 151], "nice": false, "zero": false}, "axis": {"values": [0, 40, 80, 120], "labels": false, "title": null}},
  "y": {"field": "n", "type": "quantitative", "scale": {"domain": [0, 1000], "nice": false}, "axis": null},
  "color": {"field": "s", "type": "nominal", "scale": {"domain": ["a", "b", "c", "d"], "range": ["#ff0000", "#0000ff", "#008000", "#ffa500"]}, "legend": null},
  "order": {"value": null}
 }
},
{"width": 335, "height": 335, "view": {"stroke": null}, "data": {"values": []}, "mark": "point", "encoding": {}},
{"width": 335, "height": 335, "view": {"stroke": null}, "data": {"values": []}, "mark": "point", "encoding": {}},
{
 "width": 335, "height": 335,
 "data": {"name": "cpa"},
 "mark": {"type": "line", "interpolate": "cardinal-closed", "clip": true, "strokeWidth": 2.8},
 "encoding": {
  "x": {"field": "x", "type": "quantitative", "scale": {"domain": [-28, 151], "nice": false, "zero": false}, "axis": {"values": [0, 40, 80, 120], "labels": false, "title": null}},
  "y": {"field": "y", "type": "quantitative", "scale": {"domain": [-0.8, 3.8], "nice": false, "zero": false}, "axis": {"values": [0, 1, 2, 3], "title": "α", "titleFontStyle": "italic", "labelAngle": -45, "labelAlign": "right", "labelBaseline": "middle", "labelPadding": 25, "titleX": -108, "titleBaseline": "alphabetic", "titleAlign": "center"}},
  "color": {"field": "s", "type": "nominal", "scale": {"domain": ["a", "b", "c", "d"], "range": ["#ff0000", "#0000ff", "#008000", "#ffa500"]}, "legend": null},
  "detail": {"field": "g", "type": "nominal"},
  "order": {"value": null}
 }
},
{
 "width": 335, "height": 335,
 "data": {"name": "ha"},
 "mark": {"type": "line", "interpolate": "step-after", "clip": true, "strokeWidth": 2.6},
 "encoding": {
  "x": {"field": "x", "type": "quantitative", "scale": {"domain": [-0.8, 3.8], "nice": false, "zero": false}, "axis": {"values": [0, 1, 2, 3], "labels": false, "title": null}},
  "y": {"field": "n", "type": "quantitative", "scale": {"domain": [0, 1000], "nice": false}, "axis": null},
  "color": {"field": "s", "type": "nominal", "scale": {"domain": ["a", "b", "c", "d"], "range": ["#ff0000", "#0000ff", "#008000", "#ffa500"]}, "legend": null},
  "order": {"value": null}
 }
},
{"width": 335, "height": 335, "view": {"stroke": null}, "data": {"values": []}, "mark": "point", "encoding": {}},
{
 "width": 335, "height": 335,
 "data": {"name": "cps"},
 "mark": {"type": "line", "interpolate": "cardinal-closed", "clip": true, "strokeWidth": 2.8},
 "encoding": {
  "x": {"field": "x", "type": "quantitative", "scale": {"domain": [-28, 151], "nice": false, "zero": false}, "axis": {"values": [0, 40, 80, 120], "title": "ϕ̃", "titleFontStyle": "italic", "labelAngle": -45, "labelAlign": "center", "labelBaseline": "middle", "labelPadding": 28, "titleY": 129, "titleBaseline": "alphabetic", "encode": {"labels": {"update": {"dx": {"signal": "-3.7*length(datum.label)"}, "dy": {"signal": "3.7*length(datum.label)"}}}}}},
  "y": {"field": "y", "type": "quantitative", "scale": {"domain": [1.12, 4.85], "nice": false, "zero": false}, "axis": {"values": [1.6, 2.4, 3.2, 4.0, 4.8], "format": ".1f", "title": "log₁₀ σ⁎", "labelAngle": -45, "labelAlign": "right", "labelBaseline": "middle", "labelPadding": 25, "titleX": -108, "titleBaseline": "alphabetic", "titleAlign": "center"}},
  "color": {"field": "s", "type": "nominal", "scale": {"domain": ["a", "b", "c", "d"], "range": ["#ff0000", "#0000ff", "#008000", "#ffa500"]}, "legend": null},
  "detail": {"field": "g", "type": "nominal"},
  "order": {"value": null}
 }
},
{
 "width": 335, "height": 335,
 "data": {"name": "cas"},
 "mark": {"type": "line", "interpolate": "cardinal-closed", "clip": true, "strokeWidth": 2.8},
 "encoding": {
  "x": {"field": "x", "type": "quantitative", "scale": {"domain": [-0.8, 3.8], "nice": false, "zero": false}, "axis": {"values": [0, 1, 2, 3], "title": "α", "titleFontStyle": "italic", "labelAngle": -45, "labelAlign": "center", "labelBaseline": "middle", "labelPadding": 28, "titleY": 129, "titleBaseline": "alphabetic", "encode": {"labels": {"update": {"dx": {"signal": "-3.7*length(datum.label)"}, "dy": {"signal": "3.7*length(datum.label)"}}}}}},
  "y": {"field": "y", "type": "quantitative", "scale": {"domain": [1.12, 4.85], "nice": false, "zero": false}, "axis": {"values": [1.6, 2.4, 3.2, 4.0, 4.8], "labels": false, "title": null}},
  "color": {"field": "s", "type": "nominal", "scale": {"domain": ["a", "b", "c", "d"], "range": ["#ff0000", "#0000ff", "#008000", "#ffa500"]}, "legend": null},
  "detail": {"field": "g", "type": "nominal"},
  "order": {"value": null}
 }
},
{
 "width": 335, "height": 335,
 "data": {"name": "hs"},
 "mark": {"type": "line", "interpolate": "step-after", "clip": true, "strokeWidth": 2.6},
 "encoding": {
  "x": {"field": "x", "type": "quantitative", "scale": {"domain": [1.12, 4.85], "nice": false, "zero": false}, "axis": {"values": [1.6, 2.4, 3.2, 4.0, 4.8], "format": ".1f", "title": "log₁₀ σ⁎", "labelAngle": -45, "labelAlign": "center", "labelBaseline": "middle", "labelPadding": 28, "titleY": 129, "titleBaseline": "alphabetic", "encode": {"labels": {"update": {"dx": {"signal": "-3.7*length(datum.label)"}, "dy": {"signal": "3.7*length(datum.label)"}}}}}},
  "y": {"field": "n", "type": "quantitative", "scale": {"domain": [0, 1000], "nice": false}, "axis": null},
  "color": {"field": "s", "type": "nominal", "scale": {"domain": ["a", "b", "c", "d"], "range": ["#ff0000", "#0000ff", "#008000", "#ffa500"]}, "legend": null},
  "order": {"value": null}
 }
}
]
}
